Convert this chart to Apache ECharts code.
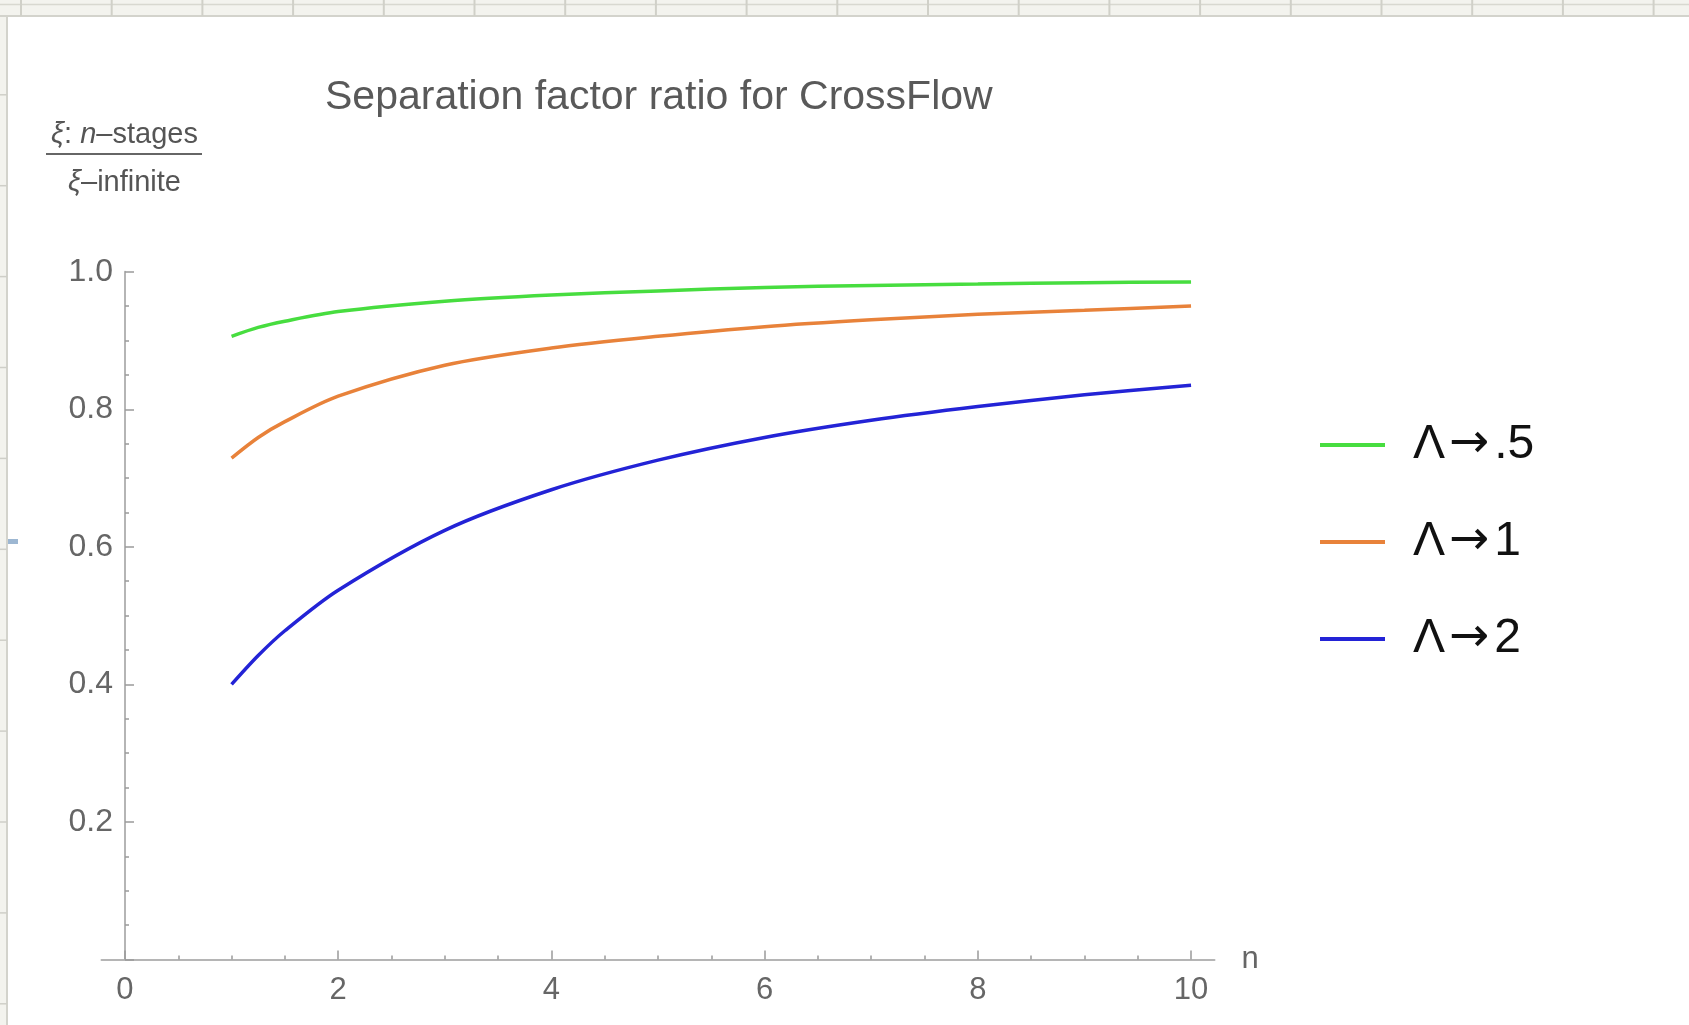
<!DOCTYPE html>
<html><head><meta charset="utf-8">
<script src="https://cdn.jsdelivr.net/npm/echarts@6/dist/echarts.min.js"></script>
<style>html,body{margin:0;padding:0;background:#f3f3ee}#c{width:1689px;height:1025px}</style>
</head><body><div id="c"></div>
<script>
// ---- data ----
const nValues   = [1, 1.25, 1.5, 2, 3, 4, 5, 6, 7, 8, 9, 10];
const lambda05  = [0.906, 0.919, 0.928, 0.942, 0.957, 0.966, 0.972, 0.977, 0.980, 0.982, 0.984, 0.985];
const lambda1   = [0.729, 0.759, 0.782, 0.819, 0.864, 0.889, 0.906, 0.920, 0.930, 0.938, 0.944, 0.950];
const lambda2   = [0.400, 0.442, 0.478, 0.537, 0.624, 0.683, 0.726, 0.759, 0.784, 0.804, 0.821, 0.835];
const seriesNames = ['Λ→.5', 'Λ→1', 'Λ→2'];
const xMajorTicks = [0, 2, 4, 6, 8, 10];
const xMinorTicks = [0.5, 1, 1.5, 2.5, 3, 3.5, 4.5, 5, 5.5, 6.5, 7, 7.5, 8.5, 9, 9.5];
const titleText = 'Separation factor ratio for CrossFlow';
const xAxisName = 'n';

// ---- chart ----
const FONT = '"Liberation Sans", Arial, Helvetica, sans-serif';
const colors = ['#47dd3f', '#e8823a', '#2323d6'];
const datas = [lambda05, lambda1, lambda2];
const zip = arr => nValues.map((n, i) => [n, arr[i]]);

// decorative spreadsheet frame
const frame = [];
frame.push({type: 'rect', z: -10, shape: {x: 7, y: 16, width: 1682, height: 1009}, style: {fill: '#ffffff'}});
frame.push({type: 'line', z: -9, shape: {x1: 0, y1: 16, x2: 1689, y2: 16}, style: {stroke: '#d3d3cc', lineWidth: 2}});
frame.push({type: 'line', z: -9, shape: {x1: 0, y1: 4.5, x2: 1689, y2: 4.5}, style: {stroke: '#d8d8d0', lineWidth: 1.5}});
frame.push({type: 'line', z: -9, shape: {x1: 7, y1: 16, x2: 7, y2: 1025}, style: {stroke: '#d3d3cc', lineWidth: 2}});
for (let x = 21; x < 1689; x += 90.7) {
  frame.push({type: 'line', z: -9, shape: {x1: x, y1: 0, x2: x, y2: 16}, style: {stroke: '#d0d0c8', lineWidth: 2}});
}
for (let y = 94.8; y < 1025; y += 90.9) {
  frame.push({type: 'line', z: -9, shape: {x1: 0, y1: y, x2: 7, y2: y}, style: {stroke: '#cfcfc8', lineWidth: 1.5}});
}
frame.push({type: 'rect', z: -8, shape: {x: 8, y: 539, width: 10, height: 5}, style: {fill: '#9db7d2'}});

const richLbl = {
  g: {fontSize: 29, fontFamily: FONT, fill: '#555'},
  i: {fontSize: 29, fontFamily: FONT, fill: '#555', fontStyle: 'italic'}
};
const labelEls = [
  {type: 'text', x: 124.5, y: 135, style: {
    text: '{i|ξ}{g|: }{i|n}{g|–stages}', align: 'center', verticalAlign: 'middle', rich: richLbl
  }},
  {type: 'line', shape: {x1: 46, y1: 154, x2: 202, y2: 154}, style: {stroke: '#666', lineWidth: 2}},
  {type: 'text', x: 124.5, y: 183, style: {
    text: '{i|ξ}{g|–infinite}', align: 'center', verticalAlign: 'middle', rich: richLbl
  }}
];

const chart = echarts.init(document.getElementById('c'), null, {renderer: 'canvas'});
chart.setOption({
  backgroundColor: '#f3f3ee',
  animation: false,
  textStyle: {fontFamily: FONT},
  title: {
    text: titleText, left: 325, top: 77, padding: 0,
    textStyle: {fontSize: 41, lineHeight: 41, fontWeight: 'normal', color: '#595959', fontFamily: FONT}
  },
  graphic: {elements: frame.concat(labelEls)},
  legend: {
    data: seriesNames, orient: 'vertical', left: 1320, top: 420, padding: 0,
    icon: 'rect', itemWidth: 65, itemHeight: 4, itemGap: 47, selectedMode: false,
    formatter: name => '{t|' + name.replace('→', '}{a|→}{t|') + '}',
    textStyle: {
      fontSize: 48, lineHeight: 50, color: '#111', fontFamily: FONT, padding: [0, 0, 0, 23],
      rich: {
        t: {fontSize: 48, color: '#111', fontFamily: FONT},
        a: {fontSize: 48, color: '#111', fontFamily: '"DejaVu Sans", sans-serif', padding: [0, 5, 0, 4]}
      }
    }
  },
  grid: {left: 101.5, right: 474.5, top: 271.7, bottom: 65.5, containLabel: false, outerBoundsMode: 'none'},
  xAxis: [{
    type: 'value', min: -0.22, max: 10.22,
    name: xAxisName, nameLocation: 'end', nameGap: 27,
    nameTextStyle: {fontSize: 31, color: '#666', verticalAlign: 'middle', fontFamily: FONT},
    axisLine: {onZero: true, lineStyle: {color: '#b5b5b5', width: 2}},
    axisTick: {inside: true, length: 9, customValues: xMajorTicks, lineStyle: {color: '#9a9a9a', width: 1.5}},
    axisLabel: {customValues: xMajorTicks, formatter: v => String(v), fontSize: 31, color: '#666', margin: 15, fontFamily: FONT},
    splitLine: {show: false}
  }, {
    type: 'value', min: -0.22, max: 10.22, gridIndex: 0, position: 'bottom',
    axisLine: {show: false, onZero: true},
    axisTick: {inside: true, length: 4, customValues: xMinorTicks, lineStyle: {color: '#9a9a9a', width: 1.5}},
    axisLabel: {show: false},
    splitLine: {show: false}
  }],
  yAxis: {
    type: 'value', min: 0, max: 1, interval: 0.2, offset: -23.5,
    axisLine: {onZero: false, lineStyle: {color: '#b5b5b5', width: 2}},
    axisTick: {inside: true, length: 9, lineStyle: {color: '#9a9a9a', width: 1.5}},
    minorTick: {show: true, splitNumber: 4, length: 4, lineStyle: {color: '#9a9a9a', width: 1.5}},
    axisLabel: {formatter: v => v === 0 ? '' : v.toFixed(1), fontSize: 32, color: '#666', margin: 12, fontFamily: FONT},
    splitLine: {show: false}
  },
  series: seriesNames.map((name, i) => ({
    name, type: 'line', xAxisIndex: 0, data: zip(datas[i]),
    smooth: 0.3, showSymbol: false, symbol: 'none',
    color: colors[i], lineStyle: {width: 3.5, color: colors[i]}
  }))
});
</script></body></html>
